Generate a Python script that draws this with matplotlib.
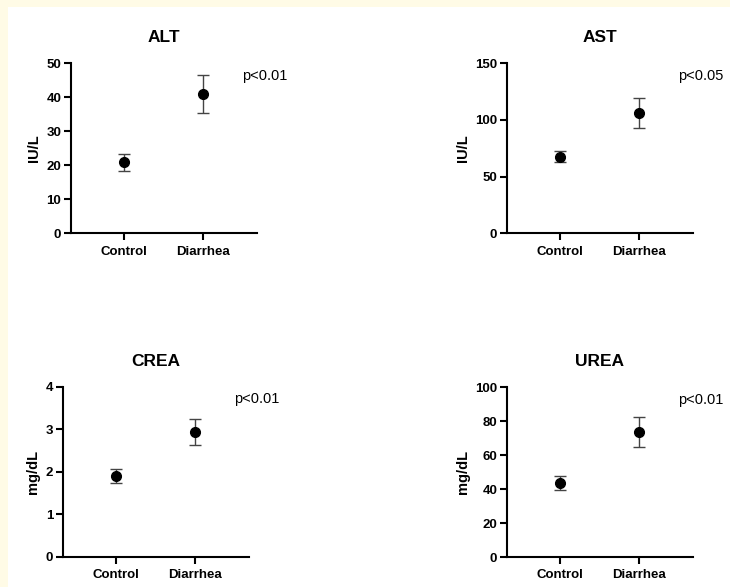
import matplotlib.pyplot as plt
from matplotlib.patches import Rectangle

plt.rcParams['font.family'] = ['Liberation Sans', 'DejaVu Sans']

groups = ["Control", "Diarrhea"]

panels = ["ALT", "AST", "CREA", "UREA"]
units = ["IU/L", "IU/L", "mg/dL", "mg/dL"]
pvals = ["p<0.01", "p<0.05", "p<0.01", "p<0.01"]

alt_mean = [20.9, 41.0]
alt_err = [2.5, 5.5]
ast_mean = [67.6, 106.0]
ast_err = [5.0, 13.0]
crea_mean = [1.9, 2.94]
crea_err = [0.175, 0.31]
urea_mean = [43.5, 73.7]
urea_err = [4.1, 8.8]

ymax = [50, 150, 4, 100]
ystep = [10, 50, 1, 20]

means = [alt_mean, ast_mean, crea_mean, urea_mean]
errs = [alt_err, ast_err, crea_err, urea_err]

W, H = 730, 587
fig = plt.figure(figsize=(W / 100, H / 100), dpi=100)
fig.patch.set_facecolor("white")
# cream strips at top and left of the page
cream = "#fffbe6"
fig.patches.append(Rectangle((0, 1 - 7 / H), 1, 7 / H, transform=fig.transFigure,
                             facecolor=cream, edgecolor="none"))
fig.patches.append(Rectangle((0, 0), 8 / W, 1, transform=fig.transFigure,
                             facecolor=cream, edgecolor="none"))

# axes boxes in pixels: left, right, top, bottom
boxes = [(71, 257, 63.3, 233.3), (507, 693, 63.3, 233.3),
         (63, 249, 386.7, 556.7), (507, 693, 387, 557)]

for i in range(4):
    l, r, t, b = boxes[i]
    ax = fig.add_axes([l / W, 1 - b / H, (r - l) / W, (b - t) / H])
    ax.set_facecolor("none")
    x = list(range(len(groups)))
    ax.errorbar(x, means[i], yerr=errs[i], fmt="none", ecolor="#444444",
                elinewidth=1.0, capsize=4, capthick=1.0)
    ax.plot(x, means[i], "o", color="black", markersize=7, zorder=3)
    ax.set_xlim(-0.67, 1.68)
    ax.set_ylim(0, ymax[i])
    ax.set_yticks([k * ystep[i] for k in range(int(round(ymax[i] / ystep[i])) + 1)])
    ax.set_xticks(x)
    ax.set_xticklabels(groups)
    for s in ["top", "right"]:
        ax.spines[s].set_visible(False)
    for s in ["left", "bottom"]:
        ax.spines[s].set_linewidth(1.5)
    ax.tick_params(width=1.5, length=5, labelsize=9.5)
    ax.tick_params(axis="x", pad=4)
    ax.tick_params(axis="y", pad=2)
    for lab in ax.get_xticklabels() + ax.get_yticklabels():
        lab.set_fontweight("bold")
    ax.set_ylabel(units[i], fontsize=10.5, fontweight="bold")
    ax.set_title(panels[i], fontsize=12.5, fontweight="bold", pad=15)
    ax.text(0.92, 0.925, pvals[i], transform=ax.transAxes, fontsize=10.5,
            ha="left", va="center", clip_on=False)

fig.savefig("out.png", dpi=100)
